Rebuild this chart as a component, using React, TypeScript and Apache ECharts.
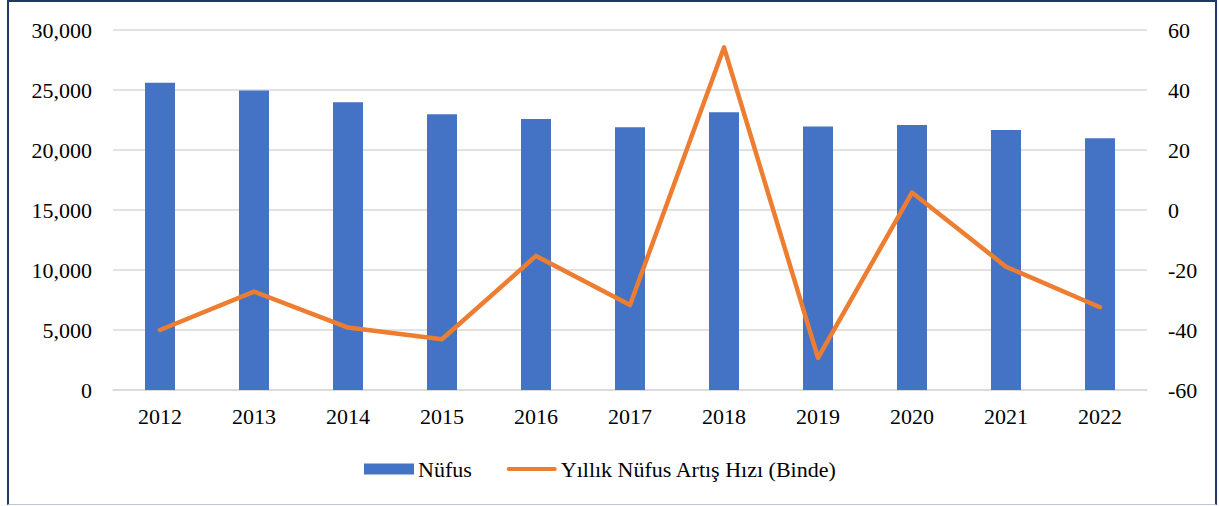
import React, { useEffect, useRef } from "react";
import * as echarts from "echarts";

const years = ["2012", "2013", "2014", "2015", "2016", "2017", "2018", "2019", "2020", "2021", "2022"];
const nufus = [25600, 24950, 23970, 22970, 22580, 21890, 23140, 21950, 22080, 21670, 20970];
const artisHizi = [-40.0, -27.2, -39.2, -43.1, -15.3, -31.7, 54.2, -49.3, 5.8, -18.9, -32.4];
const leftTicks = { min: 0, max: 30000, interval: 5000 };
const rightTicks = { min: -60, max: 60, interval: 20 };

const FONT = "Times New Roman, Liberation Serif, serif";

export default function App() {
  const ref = useRef<HTMLDivElement>(null);

  useEffect(() => {
    document.body.style.margin = "0";
    const chart = echarts.init(ref.current!, null, { renderer: "svg" });
    chart.setOption({
      animation: false,
      textStyle: { fontFamily: FONT, color: "#000" },
      grid: { left: 113, right: 72, top: 30, bottom: 116, containLabel: false },
      legend: {
        left: 359,
        top: 453,
        itemGap: 35,
        itemWidth: 50,
        itemHeight: 11,
        textStyle: { fontFamily: FONT, fontSize: 22, color: "#000", padding: [0, 0, 0, -1] },
        data: [
          { name: "Nüfus", icon: "rect" },
          {
            name: "Yıllık Nüfus Artış Hızı (Binde)",
            icon: "path://M2,0 L50,0 A2,2 0 0 1 50,4 L2,4 A2,2 0 0 1 2,0 Z",
          },
        ],
      },
      xAxis: {
        type: "category",
        data: years,
        axisLine: { show: true, lineStyle: { color: "#d9d9d9", width: 1.5 } },
        axisTick: { show: false },
        axisLabel: { fontFamily: FONT, fontSize: 22, color: "#000", margin: 15 },
      },
      yAxis: [
        {
          type: "value",
          min: leftTicks.min,
          max: leftTicks.max,
          interval: leftTicks.interval,
          axisLine: { show: false },
          axisTick: { show: false },
          splitLine: { lineStyle: { color: "#d9d9d9", width: 1.5 } },
          axisLabel: {
            fontFamily: FONT,
            fontSize: 22,
            color: "#000",
            margin: 21,
            formatter: (v: number) => v.toLocaleString("en-US"),
          },
        },
        {
          type: "value",
          min: rightTicks.min,
          max: rightTicks.max,
          interval: rightTicks.interval,
          axisLine: { show: false },
          axisTick: { show: false },
          splitLine: { show: false },
          axisLabel: { fontFamily: FONT, fontSize: 22, color: "#000", margin: 21 },
        },
      ],
      series: [
        {
          name: "Nüfus",
          type: "bar",
          data: nufus,
          barWidth: 30,
          itemStyle: { color: "#4472C4" },
          yAxisIndex: 0,
        },
        {
          name: "Yıllık Nüfus Artış Hızı (Binde)",
          type: "line",
          data: artisHizi,
          yAxisIndex: 1,
          symbol: "none",
          itemStyle: { color: "#ED7D31" },
          lineStyle: { color: "#ED7D31", width: 4.5, cap: "round", join: "round" },
        },
      ],
    });
    return () => chart.dispose();
  }, []);

  return (
    <div style={{ position: "absolute", left: 0, top: 0, width: 1219, height: 506, background: "#fff" }}>
      <div ref={ref} style={{ position: "absolute", left: 0, top: 0, width: 1219, height: 506 }} />
      <div
        style={{
          position: "absolute",
          left: 7,
          top: 0,
          width: 1210,
          height: 505,
          boxSizing: "border-box",
          borderLeft: "2px solid #1F3864",
          borderTop: "2px solid #1F3864",
          borderRight: "2px solid #1F3864",
          borderBottom: "1px solid #BFC5D2",
          pointerEvents: "none",
        }}
      />
    </div>
  );
}
